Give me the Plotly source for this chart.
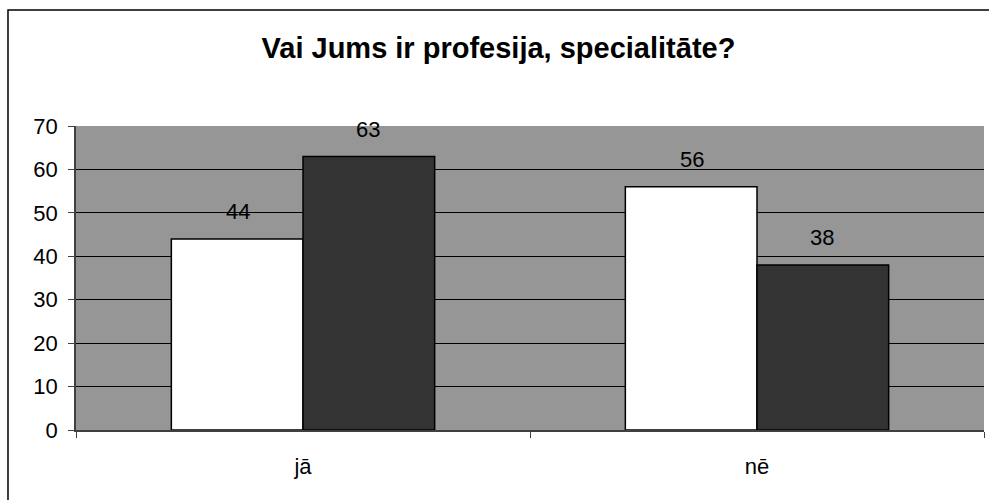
import plotly.graph_objects as go

categories = ["jā", "nē"]
series_a = [44, 56]
series_b = [63, 38]
y_ticks = [0, 10, 20, 30, 40, 50, 60, 70]

FONT = "Liberation Sans, Arial"

fig = go.Figure()
fig.add_trace(go.Bar(
    x=categories, y=series_a, name="A",
    marker=dict(color="#ffffff", line=dict(color="#000000", width=1.5)),
))
fig.add_trace(go.Bar(
    x=categories, y=series_b, name="B",
    marker=dict(color="#333333", line=dict(color="#000000", width=1.5)),
))

# value labels floating above each bar
for vals, shift in ((series_a, -65), (series_b, 65)):
    for cat, v in zip(categories, vals):
        fig.add_annotation(
            x=cat, y=v, text=str(v), showarrow=False,
            xshift=shift, yshift=27,
            font=dict(family=FONT, size=22, color="#000000"),
        )

# outer chart frame
fig.add_shape(
    type="rect", xref="paper", yref="paper",
    x0=-0.0749, x1=1.02, y0=-0.4, y1=1.3816,
    line=dict(color="#000000", width=1.5), fillcolor="rgba(0,0,0,0)",
    layer="below",
)

fig.update_layout(
    width=989, height=500,
    margin=dict(l=76, r=5, t=126, b=70),
    paper_bgcolor="#ffffff",
    plot_bgcolor="#969696",
    barmode="group",
    bargap=0.42,
    bargroupgap=0,
    showlegend=False,
    title=dict(
        text="<b>Vai Jums ir profesija, specialitāte?</b>",
        x=0.504, xanchor="center", y=0.905, yanchor="middle",
        font=dict(family=FONT, size=29, color="#000000"),
    ),
    font=dict(family=FONT, size=22, color="#000000"),
    xaxis=dict(
        showgrid=False, showline=True, linecolor="#404040", linewidth=1.5,
        ticks="outside", tickson="boundaries", ticklen=6, tickcolor="#404040",
        tickfont=dict(size=22), ticklabelstandoff=16, fixedrange=True,
    ),
    yaxis=dict(
        range=[0, 70], tickvals=y_ticks, showgrid=True, gridcolor="#000000",
        gridwidth=1, zeroline=False, showline=True, linecolor="#404040",
        linewidth=1.5, ticks="outside", ticklen=6, tickcolor="#404040",
        tickfont=dict(size=22), ticklabelstandoff=6, fixedrange=True,
    ),
)

fig.write_html("out.html")
